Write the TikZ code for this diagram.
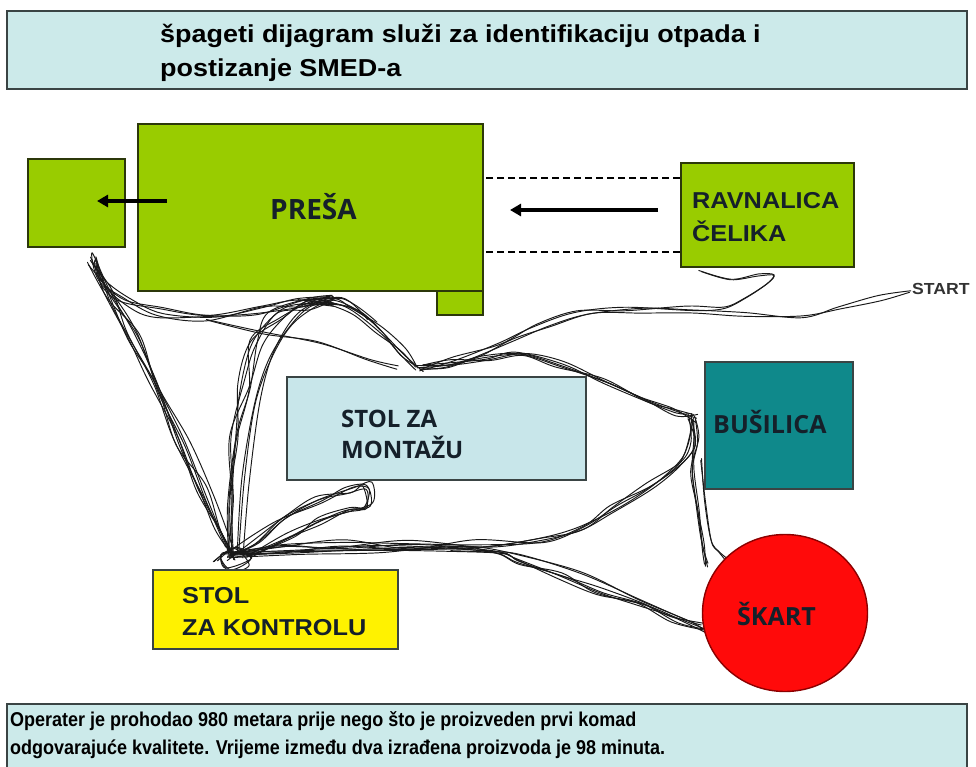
\documentclass[tikz,border=0pt]{standalone}
\usepackage{fontspec}
\setmainfont{Liberation Sans}
\newfontfamily\wideA{Liberation Sans}[FakeStretch=1.1]
\newfontfamily\narrowA{Liberation Sans}[FakeStretch=0.9]
\newfontfamily\osb{Open Sans}
\usetikzlibrary{arrows.meta,calc,shapes.geometric}
\definecolor{boxcyan}{HTML}{CCEAEA}
\definecolor{boxline}{HTML}{3A4444}
\definecolor{pressgreen}{HTML}{99CC00}
\definecolor{pressline}{HTML}{2C380A}
\definecolor{busteal}{HTML}{0F898B}
\definecolor{montazcyan}{HTML}{C8E6EA}
\definecolor{skartred}{HTML}{FF0A0A}
\definecolor{labeltext}{HTML}{15202A}
\newcommand\spaghetti[3]{%
  \foreach \k in {1,...,#1}{%
    \gdef\spts{}%
    \foreach \px/\py in {#3}{%
      \pgfmathsetmacro\qx{\px+#2*rand}%
      \pgfmathsetmacro\qy{\py+#2*rand}%
      \xdef\spts{\spts (\qx,\qy)}%
    }%
    \edef\sdo{\noexpand\draw[spag] plot[smooth,tension=0.55] coordinates {\spts};}%
    \sdo
  }%
}
\begin{document}
\begin{tikzpicture}[x=1pt,y=-1pt,
  box/.style={draw=pressline, line width=1.6pt, inner sep=0pt, anchor=north west},
  spag/.style={draw=black!90, line width=0.95pt, line join=round, line cap=round},
  arr/.style={line width=3.4pt, -{Triangle[length=11pt,width=12pt]}},
  dashlink/.style={dash pattern=on 7pt off 4pt, line width=1.8pt},
  infobox/.style={draw=boxline, line width=2.2pt, fill=boxcyan, inner sep=0pt, anchor=north west},
  lbl/.style={anchor=base west, inner sep=0pt, text=labeltext},
  osbf/.style={font=\osb\bfseries\fontsize{25}{27}\selectfont},
  arbf/.style={font=\wideA\bfseries\fontsize{23}{25}\selectfont},
  infotext/.style={lbl, text=black, font=\narrowA\bfseries\fontsize{20}{22}\selectfont},
]
\useasboundingbox (0,0) rectangle (976,767);
\clip (0,0) rectangle (976,767);
\fill[white] (0,0) rectangle (976,767);
\pgfmathsetseed{42}

% title box
\node[infobox, minimum width=960pt, minimum height=78pt] (title) at (6,10) {};
\node[lbl, text=black, font=\wideA\bfseries\fontsize{24.5}{26}\selectfont] (t1) at (160,43) {špageti dijagram služi za identifikaciju otpada i};
\node[lbl, text=black, font=\wideA\bfseries\fontsize{24.5}{26}\selectfont] (t2) at (160,77) {postizanje SMED-a};

% bottom box
\node[infobox, minimum width=960pt, minimum height=90pt] (info) at (6,703) {};
\node[infotext] (b1) at (10,726) {Operater je prohodao 980 metara prije nego što je proizveden prvi komad};
\node[infotext] (b2) at (10,754) {odgovarajuće kvalitete. Vrijeme između dva izrađena proizvoda je 98 minuta.};

% spaghetti paths
\spaghetti{5}{6}{232/556, 220/530, 202/490, 178/440, 153/385, 130/335, 108/295, 92/258, 104/282, 125/302, 160/312, 210/315, 260/312, 300/304, 330/300}
\spaghetti{3}{5}{92/262, 112/298, 138/335, 162/390, 188/445, 210/500, 228/550}
\spaghetti{6}{7}{232/556, 230/500, 236/440, 244/385, 256/345, 275/318, 305/303, 335/300}
\spaghetti{3}{5}{238/556, 245/480, 258/400, 275/345, 305/312, 345/302, 372/318}
\spaghetti{5}{5}{300/303, 330/300, 355/310, 380/330, 402/352, 420/368}
\spaghetti{2}{4}{205/318, 260/330, 320/345, 370/360, 397/368}
\spaghetti{2}{3}{912/290, 880/298, 840/310, 800/317, 745/314, 690/312, 640/311, 590/314, 550/325, 515/342, 480/356, 445/366, 420/368}
\spaghetti{2}{3}{420/368, 455/358, 500/345, 535/325, 575/312, 625/308, 690/308, 722/310, 745/298, 768/282, 776/273, 760/274, 730/277, 700/272}
\spaghetti{5}{5}{420/368, 450/364, 485/356, 520/352, 560/362, 605/382, 645/400, 675/412, 693/418}
\spaghetti{4}{3}{693/418, 696/440, 692/470, 698/510, 703/545, 707/565}
\spaghetti{2}{2}{700/460, 706/500, 712/540, 718/552, 728/560}
\spaghetti{5}{5}{232/556, 280/548, 340/544, 410/545, 480/544, 540/540, 580/530, 615/510, 650/486, 680/465, 693/440, 690/418}
\spaghetti{5}{5}{232/556, 300/553, 380/550, 450/547, 500/551, 520/562, 560/575, 600/590, 640/606, 675/620, 705/628}
\spaghetti{2}{4}{450/547, 480/550, 520/555, 580/572, 640/597, 690/618, 705/625}
\spaghetti{5}{5}{232/556, 255/540, 285/517, 318/500, 350/490, 367/487, 368/505, 350/512, 320/522, 290/537, 250/553}
\spaghetti{3}{4}{215/560, 235/548, 250/562, 228/570, 222/552, 245/555}

% machines and tables
\node[box, fill=pressgreen, minimum width=97pt, minimum height=88pt] (small) at (27,158) {};
\node[box, fill=pressgreen, minimum width=345pt, minimum height=167pt] (presa) at (137,123) {};
\node[box, fill=pressgreen, minimum width=46pt, minimum height=24pt] (tab) at (436,290) {};
\node[box, fill=pressgreen, minimum width=173pt, minimum height=104pt] (ravn) at (680,162) {};
\node[box, draw=boxline, fill=montazcyan, minimum width=299pt, minimum height=103pt] (montaz) at (286,376) {};
\node[box, draw=boxline, fill=busteal, minimum width=148pt, minimum height=127pt] (busilica) at (704,361) {};
\node[box, draw=boxline, fill=yellow, minimum width=245pt, minimum height=79pt] (kontrola) at (152,569) {};
\node[ellipse, draw=red!55!black, line width=1.4pt, fill=skartred, minimum width=165pt, minimum height=157pt, inner sep=0pt] (skart) at (785,613) {};

% labels
\node[lbl, font=\osb\bfseries\fontsize{28}{30}\selectfont] (presaT) at (270,220) {PREŠA};
\node[lbl, arbf] (ravnT1) at (692,209) {RAVNALICA};
\node[lbl, arbf] (ravnT2) at (692,241) {ČELIKA};
\node[lbl, font=\osb\bfseries\fontsize{24}{26}\selectfont] (montazT1) at (341,427) {STOL ZA};
\node[lbl, font=\osb\bfseries\fontsize{24}{26}\selectfont] (montazT2) at (341,458) {MONTAŽU};
\node[lbl, osbf] (busilicaT) at (713,433) {BUŠILICA};
\node[lbl, osbf] (skartT) at (737,625) {ŠKART};
\node[lbl, arbf] (kontrolaT1) at (182,603) {STOL};
\node[lbl, arbf] (kontrolaT2) at (182,635) {ZA KONTROLU};
\node[lbl, text=black!80, font=\wideA\bfseries\fontsize{16}{18}\selectfont] (start) at (912,294) {START};

% flow arrows and dashed guides
\coordinate (a1s) at (167,201);
\coordinate (a1e) at (97,201);
\coordinate (a2s) at (658,210);
\coordinate (a2e) at (510,210);
\draw[arr] (a1s) -- (a1e);
\draw[arr] (a2s) -- (a2e);
\draw[dashlink] ([yshift=-16pt]ravn.north west) -- ([yshift=-16pt]ravn.north west -| presa.east);
\draw[dashlink] ([yshift=16pt]ravn.south west) -- ([yshift=16pt]ravn.south west -| presa.east);
\end{tikzpicture}
\end{document}
